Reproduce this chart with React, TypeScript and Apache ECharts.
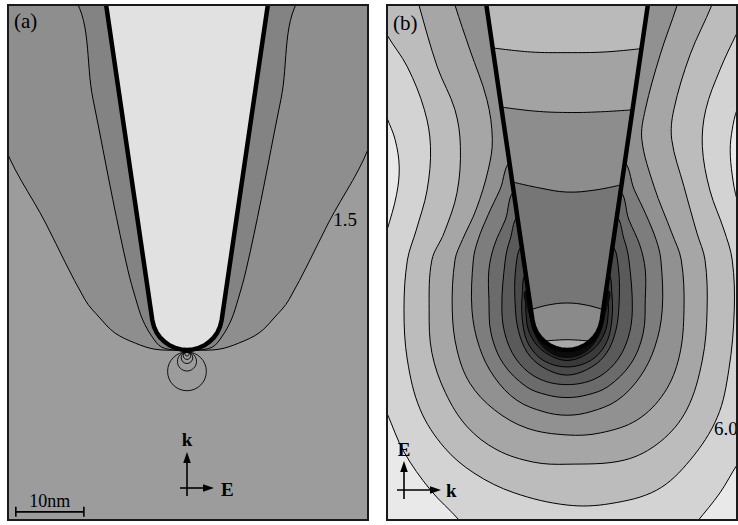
import React, { useEffect, useRef } from "react";
import * as echarts from "echarts";

const FONT = '"Liberation Serif", "Times New Roman", serif';

// Axis extents in nm, origin at the tip apex
const A_X_RANGE = [-26.3, 26.6];
const B_X_RANGE = [-26.5, 25.0];
const Y_RANGE = [-25.0, 50.7];

// Tip outline (same tip in both panels)
const TIP_X = [-12.1, -5.1, -4.85, -4.47, -3.96, -3.32, -2.58, -1.76, -0.9, 0, 0.9, 1.76, 2.58, 3.32, 3.96, 4.47, 4.85, 5.1, 12.1];
const TIP_Y = [52.2, 4.41, 3.4, 2.57, 1.84, 1.21, 0.69, 0.31, 0.07, 0, 0.07, 0.31, 0.69, 1.21, 1.84, 2.57, 3.4, 4.41, 52.2];

// ---------- Panel (a) ----------
const A_C15_X = [-27.3, -20.7, -15.0, -12.8, -10.6, -7.6, -4.7, -1.2, 1.2, 4.7, 7.6, 10.6, 12.8, 15.0, 20.7, 27.3];
const A_C15_Y = [31.5, 18.5, 7.4, 4.7, 2.5, 1.0, 0.1, -0.05, -0.05, 0.1, 1.0, 2.5, 4.7, 7.4, 18.5, 31.5];
const A_CIN_X = [-17.2, -13.8, -10.9, -8.7, -7.5, -6.5, -5.1, -3.7, -1.2, 1.2, 3.7, 5.1, 6.5, 7.5, 8.7, 10.9, 13.8, 17.2];
const A_CIN_Y = [52.5, 36.8, 22.1, 11.8, 7.4, 4.4, 1.9, 0.4, -0.05, -0.05, 0.4, 1.9, 4.4, 7.4, 11.8, 22.1, 36.8, 52.5];
const A_RING_CY = [-3.15, -1.7, -1.15, -0.85, -0.6];
const A_RING_R = [2.85, 1.4, 0.85, 0.55, 0.3];
const A_LABEL_TEXT = ["1.5"];
const A_LABEL_X = [21.5];
const A_LABEL_Y = [19.1];
const A_FILLS = ["#9c9c9c", "#8e8e8e", "#838383", "#e1e1e1"];

// ---------- Panel (b) ----------
const B_C0_L_X = [-27.5, -26.5, -25.3, -24.7, -25.1, -26.5, -27.5];
const B_C0_L_Y = [36.8, 34.1, 30.9, 26.9, 22.8, 17.6, 14.7];
const B_C0_R_X = [26.2, 25.0, 24.3, 24.0, 24.3, 25.0, 26.2];
const B_C0_R_Y = [37.5, 35.3, 32.4, 29.4, 25.7, 22.1, 19.1];
const B_C0_BL_X = [-27.5, -26.5, -24.0, -20.1, -15.9, -15.0];
const B_C0_BL_Y = [-7.1, -9.3, -15.0, -20.6, -25.0, -26.5];
const B_C0_BR_X = [26.2, 25.0, 22.5, 19.1, 18.1];
const B_C0_BR_Y = [-15.4, -16.9, -21.0, -25.3, -26.5];

const B_C1_X = [-27.5, -26.5, -23.5, -21.0, -20.1, -20.6, -22.2, -23.5, -24.0, -23.5, -21.6, -18.1, -13.7, -7.8, 0, 6.3, 13.2, 18.1, 22.1, 23.8, 24.6, 24.3, 23.1, 21.0, 19.9, 20.4, 22.5, 25.0, 26.2];
const B_C1_Y = [48.5, 46.3, 41.6, 35.3, 29.9, 23.5, 17.6, 13.2, 5.9, -1.5, -8.8, -14.3, -18.1, -21.0, -22.8, -22.6, -20.6, -16.2, -9.9, -2.9, 5.9, 13.2, 17.6, 23.5, 29.9, 35.3, 41.2, 46.6, 48.8];
const B_C2_X = [-22.1, -21.8, -19.1, -16.5, -15.7, -16.2, -18.1, -19.9, -20.3, -19.9, -17.9, -14.7, -10.3, -4.9, 0, 8.4, 13.7, 17.6, 19.9, 20.6, 20.3, 19.1, 17.2, 15.4, 15.7, 18.1, 21.3, 21.6];
const B_C2_Y = [52.2, 50.7, 41.6, 35.3, 29.9, 23.1, 17.2, 13.2, 5.9, -0.4, -6.3, -11.3, -14.7, -16.5, -16.8, -16.2, -13.5, -8.8, -1.5, 5.9, 13.2, 17.2, 24.0, 30.9, 35.3, 43.4, 50.7, 52.2];
const B_C3_X = [-16.8, -16.5, -14.3, -11.8, -11.0, -11.6, -13.4, -15.4, -16.5, -16.9, -16.2, -14.3, -10.7, -5.9, 0, 4.9, 10.3, 14.3, 16.5, 17.2, 16.8, 15.4, 12.8, 11.0, 11.5, 13.7, 16.2, 16.5];
const B_C3_Y = [52.2, 50.7, 44.1, 36.8, 30.9, 26.5, 20.6, 16.2, 13.2, 5.9, 0, -4.9, -8.8, -11.5, -12.5, -12.2, -10.3, -6.3, -1.0, 5.9, 13.2, 17.2, 24.0, 30.9, 35.3, 43.4, 50.7, 52.2];
const B_C4_X = [-7.9, -9.9, -11.6, -13.1, -13.8, -14.0, -12.9, -10.7, -7.4, -3.4, 0, 3.4, 7.4, 10.7, 12.9, 14.0, 13.8, 13.1, 11.6, 9.9, 7.9];
const B_C4_Y = [27.9, 23.5, 19.9, 16.2, 13.2, 5.9, 0.4, -4.0, -7.4, -9.1, -9.6, -9.1, -7.4, -4.0, 0.4, 5.9, 13.2, 16.2, 19.9, 23.5, 27.9];
const B_C5_X = [-7.4, -9.1, -10.7, -11.5, -11.5, -11.2, -9.4, -6.0, -3.0, 0, 3.0, 6.0, 9.4, 11.2, 11.5, 11.5, 10.7, 9.1, 7.4];
const B_C5_Y = [23.5, 19.1, 15.4, 11.8, 7.4, 2.5, -2.0, -5.4, -6.6, -7.0, -6.6, -5.4, -2.0, 2.5, 7.4, 11.8, 15.4, 19.1, 23.5];
const B_C6_X = [-6.8, -8.4, -9.1, -9.6, -8.9, -7.0, -4.0, 0, 4.0, 7.0, 8.9, 9.6, 9.1, 8.4, 6.8];
const B_C6_Y = [19.9, 16.2, 13.2, 5.9, 1.5, -2.0, -4.3, -5.1, -4.3, -2.0, 1.5, 5.9, 13.2, 16.2, 19.9];
const B_C7_X = [-6.3, -7.5, -7.6, -6.9, -5.4, -2.9, 0, 2.9, 5.4, 6.9, 7.6, 7.5, 6.3];
const B_C7_Y = [15.4, 12.5, 5.9, 1.9, -1.0, -2.9, -3.7, -2.9, -1.0, 1.9, 5.9, 12.5, 15.4];
const B_C8_X = [-5.7, -6.6, -6.5, -5.6, -3.4, 0, 3.4, 5.6, 6.5, 6.6, 5.7];
const B_C8_Y = [11.5, 8.1, 3.7, 0.7, -1.6, -2.5, -1.6, 0.7, 3.7, 8.1, 11.5];
const B_C9_X = [-5.5, -6.0, -5.2, -3.2, 0, 3.2, 5.2, 6.0, 5.5];
const B_C9_Y = [7.6, 4.7, 1.8, -0.4, -1.55, -0.4, 1.8, 4.7, 7.6];
const B_CORE_X = [-6.0, -5.6, -4.7, -2.8, 0, 2.8, 4.7, 5.6, 6.0];
const B_CORE_Y = [8.8, 5.1, 2.0, -0.3, -1.2, -0.3, 2.0, 5.1, 8.8];

const B_T1_X = [-11.0, -5.4, 0, 5.6, 11.0];
const B_T1_Y = [44.4, 43.8, 43.7, 43.8, 44.3];
const B_T2_X = [-9.7, -4.7, 0, 4.9, 9.7];
const B_T2_Y = [35.7, 35.1, 34.9, 35.0, 35.3];
const B_T3_X = [-8.1, -4.0, 0, 4.1, 8.1];
const B_T3_Y = [24.7, 23.8, 23.2, 23.5, 24.3];
const B_T4_X = [-5.4, -2.8, 0, 2.8, 5.4];
const B_T4_Y = [5.9, 6.6, 6.9, 6.6, 5.9];
const B_T5_X = [-3.4, 0, 3.4];
const B_T5_Y = [1.3, 1.5, 1.3];

const B_LABEL_TEXT = ["6.0"];
const B_LABEL_X = [21.6];
const B_LABEL_Y = [-11.6];

const B_OUT_FILL = "#e9e9e9";
const B_BASE_FILL = "#d3d3d3";
const B_LEVEL_FILLS = ["#bcbcbc", "#a6a6a6", "#919191", "#7d7d7d", "#6b6b6b", "#5a5a5a", "#4a4a4a", "#3a3a3a", "#2a2a2a"];
const B_CORE_FILL = "#0b0b0b";
const B_TIP_FILLS = ["#bababa", "#a3a3a3", "#8d8d8d", "#767676", "#8a8a8a", "#a9a9a9"];

// scale bar (nm)
const SCALE_X0 = -25.15;
const SCALE_Y = -23.8;
const SCALE_LEN = 10;
const SCALE_TEXT = "10nm";

function bandBelow(lx: number[], ly: number[]) {
  const xs = [...lx];
  const ys = [...ly];
  const lim = Math.min(ly[0], ly[ly.length - 1]);
  for (let i = TIP_X.length - 1; i >= 0; i--) {
    if (TIP_Y[i] < lim) {
      xs.push(TIP_X[i]);
      ys.push(TIP_Y[i]);
    }
  }
  return { xs, ys };
}

function makeRender(layers: any[], xr: number[]) {
  return (params: any, api: any) => {
    const L = layers[params.dataIndex];
    if (!L) return null;
    if (L.kind === "ring") {
      const c = api.coord([L.cx, L.cy]);
      const r = api.size([L.r, L.r]);
      return {
        type: "ellipse",
        shape: { cx: c[0], cy: c[1], rx: r[0], ry: r[1] },
        style: { fill: "none", stroke: "#000", lineWidth: 0.9 },
      };
    }
    if (L.kind === "text") {
      const c = api.coord([L.x, L.y]);
      return {
        type: "text",
        x: c[0],
        y: c[1],
        style: { text: L.text, fill: "#000", fontSize: 19, fontFamily: FONT, align: "left", verticalAlign: "middle" },
      };
    }
    if (L.kind === "scale") {
      const a = api.coord([L.x0, L.y]);
      const b = api.coord([L.x0 + L.len, L.y]);
      const ls = { stroke: "#000", lineWidth: 1.6 };
      return {
        type: "group",
        children: [
          { type: "line", shape: { x1: a[0], y1: a[1], x2: b[0], y2: b[1] }, style: ls },
          { type: "line", shape: { x1: a[0], y1: a[1] - 5, x2: a[0], y2: a[1] + 5 }, style: ls },
          { type: "line", shape: { x1: b[0], y1: b[1] - 5, x2: b[0], y2: b[1] + 5 }, style: ls },
          {
            type: "text",
            x: (a[0] + b[0]) / 2,
            y: a[1] - 11,
            style: { text: L.text, fill: "#000", fontSize: 18, fontFamily: FONT, align: "center", verticalAlign: "middle" },
          },
        ],
      };
    }
    const pts: number[][] = L.xs.map((x: number, i: number) => [x, L.ys[i]]);
    const [x0, x1] = xr;
    const [y0, y1] = Y_RANGE;
    if (L.close === "top") pts.push([x1 + 5, y1 + 5], [x0 - 5, y1 + 5]);
    else if (L.close === "bl") pts.push([x0 - 5, y0 - 5]);
    else if (L.close === "br") pts.push([x1 + 5, y0 - 5]);
    const px = pts.map((p) => api.coord(p));
    const smooth = L.smooth === undefined ? 0.35 : L.smooth;
    if (L.kind === "path") {
      return {
        type: "polyline",
        shape: { points: px, smooth },
        style: { fill: "none", stroke: L.stroke, lineWidth: L.lw, lineJoin: "round", lineCap: "round" },
      };
    }
    return {
      type: "polygon",
      shape: { points: px, smooth },
      style: {
        fill: L.fill,
        stroke: L.stroke || "none",
        lineWidth: L.stroke ? L.lw || 1 : 0,
        lineJoin: "round",
      },
    };
  };
}

const area = (xs: number[], ys: number[], fill: string, close: string, stroke: string | null = "#000", smooth?: number) => ({
  kind: "area", xs, ys, fill, close, stroke, lw: 1, smooth,
});

function buildLayersA() {
  const layers: any[] = [
    area(A_C15_X, A_C15_Y, A_FILLS[1], "top"),
    area(A_CIN_X, A_CIN_Y, A_FILLS[2], "top"),
  ];
  A_RING_CY.forEach((cy, i) => layers.push({ kind: "ring", cx: 0, cy, r: A_RING_R[i] }));
  layers.push(area(TIP_X, TIP_Y, A_FILLS[3], "none", null, 0));
  layers.push({ kind: "path", xs: TIP_X, ys: TIP_Y, stroke: "#000", lw: 4.5, smooth: 0 });
  return layers;
}

function buildLayersB() {
  const layers: any[] = [
    area(B_C0_L_X, B_C0_L_Y, B_OUT_FILL, "none"),
    area(B_C0_R_X, B_C0_R_Y, B_OUT_FILL, "none"),
    area(B_C0_BL_X, B_C0_BL_Y, B_OUT_FILL, "bl"),
    area(B_C0_BR_X, B_C0_BR_Y, B_OUT_FILL, "br"),
  ];
  const cs = [
    [B_C1_X, B_C1_Y, "top"],
    [B_C2_X, B_C2_Y, "top"],
    [B_C3_X, B_C3_Y, "top"],
    [B_C4_X, B_C4_Y, "none"],
    [B_C5_X, B_C5_Y, "none"],
    [B_C6_X, B_C6_Y, "none"],
    [B_C7_X, B_C7_Y, "none"],
    [B_C8_X, B_C8_Y, "none"],
    [B_C9_X, B_C9_Y, "none"],
  ];
  cs.forEach((c: any, i) => layers.push(area(c[0], c[1], B_LEVEL_FILLS[i], c[2])));
  layers.push(area(B_CORE_X, B_CORE_Y, B_CORE_FILL, "none", null));
  layers.push(area(TIP_X, TIP_Y, B_TIP_FILLS[0], "none", null, 0));
  const ts = [
    [B_T1_X, B_T1_Y],
    [B_T2_X, B_T2_Y],
    [B_T3_X, B_T3_Y],
    [B_T4_X, B_T4_Y],
    [B_T5_X, B_T5_Y],
  ];
  ts.forEach((t: any, i) => {
    const b = bandBelow(t[0], t[1]);
    layers.push(area(b.xs, b.ys, B_TIP_FILLS[i + 1], "none", null, 0));
  });
  ts.forEach((t: any) => layers.push({ kind: "path", xs: t[0], ys: t[1], stroke: "#000", lw: 1, smooth: 0.4 }));
  layers.push({ kind: "path", xs: TIP_X, ys: TIP_Y, stroke: "#000", lw: 4.5, smooth: 0 });
  return layers;
}

function arrow(x1: number, y1: number, x2: number, y2: number) {
  const dx = x2 - x1;
  const dy = y2 - y1;
  const len = Math.hypot(dx, dy);
  const ux = dx / len;
  const uy = dy / len;
  const hl = 11;
  const hw = 3.8;
  const bx = x2 - ux * hl;
  const by = y2 - uy * hl;
  return [
    { type: "line", shape: { x1, y1, x2: bx, y2: by }, style: { stroke: "#000", lineWidth: 1.6 }, z: 101, silent: true },
    {
      type: "polygon",
      shape: { points: [[x2, y2], [bx - uy * hw, by + ux * hw], [bx + uy * hw, by - ux * hw]] },
      style: { fill: "#000" },
      z: 101,
      silent: true,
    },
  ];
}

function label(text: string, x: number, y: number, size: number, bold: boolean, align = "left") {
  return {
    type: "text",
    x,
    y,
    z: 102,
    silent: true,
    style: {
      text,
      fill: "#000",
      fontSize: size,
      fontFamily: FONT,
      fontWeight: bold ? "bold" : "normal",
      align,
      verticalAlign: "middle",
    },
  };
}

export default function App() {
  const ref = useRef<HTMLDivElement>(null);
  useEffect(() => {
    if (!ref.current) return;
    const chart = echarts.init(ref.current, undefined, { renderer: "svg" });
    const layersA = buildLayersA();
    const layersB = buildLayersB();
    const labelsA: any[] = A_LABEL_TEXT.map((t, i) => ({ kind: "text", text: t, x: A_LABEL_X[i], y: A_LABEL_Y[i] }));
    labelsA.push({ kind: "scale", x0: SCALE_X0, y: SCALE_Y, len: SCALE_LEN, text: SCALE_TEXT });
    const labelsB: any[] = B_LABEL_TEXT.map((t, i) => ({ kind: "text", text: t, x: B_LABEL_X[i], y: B_LABEL_Y[i] }));

    const option: any = {
      animation: false,
      backgroundColor: "#ffffff",
      grid: [
        { left: 8, top: 5, width: 360, height: 515, show: true, backgroundColor: A_FILLS[0], borderWidth: 0 },
        { left: 387, top: 5, width: 350, height: 515, show: true, backgroundColor: B_BASE_FILL, borderWidth: 0 },
      ],
      xAxis: [
        { type: "value", gridIndex: 0, min: A_X_RANGE[0], max: A_X_RANGE[1], show: false },
        { type: "value", gridIndex: 1, min: B_X_RANGE[0], max: B_X_RANGE[1], show: false },
      ],
      yAxis: [
        { type: "value", gridIndex: 0, min: Y_RANGE[0], max: Y_RANGE[1], show: false },
        { type: "value", gridIndex: 1, min: Y_RANGE[0], max: Y_RANGE[1], show: false },
      ],
      series: [
        {
          type: "custom",
          name: "a-field",
          xAxisIndex: 0,
          yAxisIndex: 0,
          clip: true,
          silent: true,
          z: 2,
          data: layersA.map(() => [0, 0]),
          renderItem: makeRender(layersA, A_X_RANGE),
        },
        {
          type: "custom",
          name: "a-labels",
          xAxisIndex: 0,
          yAxisIndex: 0,
          clip: false,
          silent: true,
          z: 5,
          data: labelsA.map(() => [0, 0]),
          renderItem: makeRender(labelsA, A_X_RANGE),
        },
        {
          type: "custom",
          name: "b-field",
          xAxisIndex: 1,
          yAxisIndex: 1,
          clip: true,
          silent: true,
          z: 2,
          data: layersB.map(() => [0, 0]),
          renderItem: makeRender(layersB, B_X_RANGE),
        },
        {
          type: "custom",
          name: "b-labels",
          xAxisIndex: 1,
          yAxisIndex: 1,
          clip: false,
          silent: true,
          z: 5,
          data: labelsB.map(() => [0, 0]),
          renderItem: makeRender(labelsB, B_X_RANGE),
        },
      ],
      graphic: [
        { type: "rect", shape: { x: 8, y: 5, width: 360, height: 515 }, style: { fill: "none", stroke: "#1a1a1a", lineWidth: 2 }, z: 100, silent: true },
        { type: "rect", shape: { x: 387, y: 5, width: 350, height: 515 }, style: { fill: "none", stroke: "#1a1a1a", lineWidth: 2 }, z: 100, silent: true },
        label("(a)", 14, 21, 21, false),
        label("(b)", 393, 23, 21, false),
        ...arrow(187, 496, 187, 452),
        ...arrow(180, 488, 214, 488),
        label("k", 187, 439, 19, true, "center"),
        label("E", 221, 489, 19, true),
        ...arrow(404, 499, 404, 461),
        ...arrow(397, 490, 441, 490),
        label("E", 404, 449, 19, true, "center"),
        label("k", 446, 490, 19, true),
      ],
    };
    chart.setOption(option);
    return () => chart.dispose();
  }, []);
  return <div ref={ref} style={{ position: "absolute", left: 0, top: 0, width: 738, height: 525 }} />;
}
